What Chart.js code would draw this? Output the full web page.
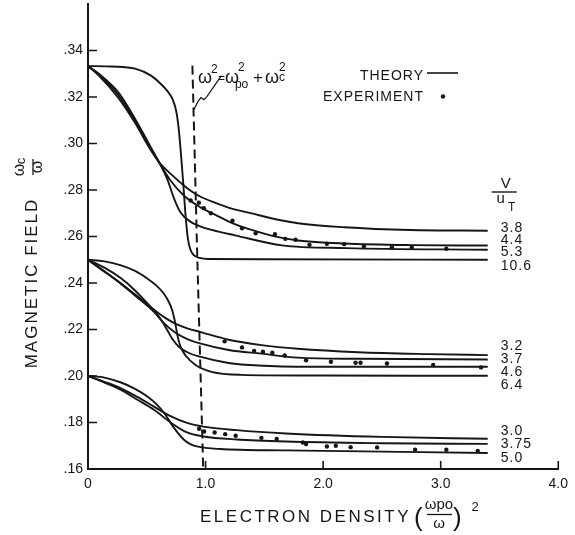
<!DOCTYPE html>
<html>
<head>
<meta charset="utf-8">
<script src="https://cdn.jsdelivr.net/npm/chart.js@4.4.0/dist/chart.umd.min.js"></script>
<style>
body { margin: 0; background: #fff; }
#wrap { width: 575px; height: 535px; }
</style>
</head>
<body>
<div id="wrap"><canvas id="myChart" width="575" height="535"></canvas></div>
<script>
// axis ticks
const xTicks = [0, 1, 2, 3, 4];
const yTicks = [0.16, 0.18, 0.20, 0.22, 0.24, 0.26, 0.28, 0.30, 0.32, 0.34];

// theory curves, [electron density, wc/w], labelled by V/uT
const theory38 = [[0,0.3333],[0.09,0.3293],[0.255,0.3198],[0.396,0.3092],[0.536,0.2970],[0.62,0.2910],[0.72,0.2862],[0.80,0.2826],[0.873,0.2797],[0.95,0.2773],[1.084,0.2745],[1.238,0.2718],[1.364,0.2703],[1.617,0.2672],[1.785,0.2657],[2.18,0.2640],[2.74,0.2628],[3.4,0.2625]];
const theory44 = [[0,0.3333],[0.09,0.3297],[0.255,0.3210],[0.396,0.3100],[0.536,0.2975],[0.62,0.2905],[0.70,0.2842],[0.817,0.2775],[0.957,0.2725],[1.084,0.2693],[1.238,0.2655],[1.364,0.2633],[1.617,0.2597],[1.785,0.2583],[2.18,0.2570],[2.74,0.2563],[3.4,0.2561]];
const theory53 = [[0,0.3333],[0.09,0.3301],[0.255,0.3222],[0.396,0.3110],[0.536,0.2982],[0.62,0.2905],[0.676,0.2845],[0.733,0.2762],[0.789,0.2702],[0.873,0.2663],[0.943,0.2646],[1.1,0.2622],[1.25,0.2605],[1.65,0.2562],[2.2,0.2550],[3.4,0.2543]];
const theory106 = [[0,0.3333],[0.2,0.3331],[0.4,0.3322],[0.536,0.3292],[0.62,0.3256],[0.676,0.3225],[0.72,0.3190],[0.75,0.3140],[0.77,0.3070],[0.79,0.2960],[0.81,0.2830],[0.83,0.2690],[0.85,0.2590],[0.87,0.2545],[0.90,0.2520],[0.95,0.2508],[1.02,0.2503],[1.5,0.2502],[3.4,0.2500]];

const theory32 = [[0,0.25],[0.14,0.2450],[0.281,0.2398],[0.42,0.2343],[0.561,0.2285],[0.65,0.2252],[0.747,0.2224],[0.85,0.2204],[0.952,0.2190],[1.196,0.2156],[1.476,0.2133],[1.785,0.2117],[2.3,0.2102],[2.9,0.2094],[3.4,0.2090]];
const theory37 = [[0,0.25],[0.14,0.2449],[0.281,0.2396],[0.42,0.2338],[0.561,0.2276],[0.65,0.2225],[0.747,0.2185],[0.85,0.2158],[0.952,0.2140],[1.196,0.2112],[1.476,0.2096],[1.785,0.2079],[2.3,0.2074],[3.4,0.2071]];
const theory46 = [[0,0.25],[0.14,0.2466],[0.281,0.2420],[0.40,0.2368],[0.505,0.2312],[0.604,0.2255],[0.674,0.2198],[0.716,0.2160],[0.775,0.2125],[0.85,0.2101],[0.952,0.2083],[1.196,0.2056],[1.5,0.2044],[1.785,0.2040],[3.4,0.2040]];
const theory64 = [[0,0.25],[0.14,0.2493],[0.281,0.2476],[0.40,0.2452],[0.505,0.2419],[0.58,0.2390],[0.646,0.2354],[0.69,0.2316],[0.716,0.2283],[0.735,0.2245],[0.75,0.2205],[0.765,0.2165],[0.79,0.2123],[0.83,0.2088],[0.915,0.2047],[1.05,0.2018],[1.3,0.2005],[2.0,0.2002],[3.4,0.2001]];

const theory30 = [[0,0.20],[0.14,0.1975],[0.281,0.1947],[0.42,0.1910],[0.561,0.1868],[0.702,0.1827],[0.842,0.1798],[0.983,0.1782],[1.263,0.1767],[1.684,0.1753],[2.5,0.1738],[3.4,0.1730]];
const theory375 = [[0,0.20],[0.14,0.1972],[0.281,0.1940],[0.42,0.1898],[0.561,0.1855],[0.702,0.1800],[0.842,0.1757],[0.983,0.1740],[1.263,0.1727],[1.684,0.1718],[2.5,0.1711],[3.4,0.1708]];
const theory50 = [[0,0.20],[0.14,0.1993],[0.281,0.1972],[0.40,0.1945],[0.505,0.1912],[0.58,0.1880],[0.646,0.1842],[0.73,0.1778],[0.814,0.1727],[0.87,0.1707],[0.926,0.1697],[1.123,0.1686],[1.684,0.1680],[3.4,0.1669]];

// experiment points
const expTop = [[0.873,0.2755],[0.943,0.2745],[0.985,0.2722],[1.045,0.2700],[1.229,0.2668],[1.31,0.2635],[1.426,0.2614],[1.59,0.2610],[1.678,0.2590],[1.765,0.2586],[1.884,0.2564],[2.032,0.2569],[2.179,0.2567],[2.347,0.2558],[2.585,0.2554],[2.754,0.2553],[3.048,0.2547]];
const expMid = [[1.162,0.2149],[1.31,0.2123],[1.413,0.2108],[1.488,0.2104],[1.568,0.2100],[1.673,0.2088],[1.855,0.2068],[2.066,0.2061],[2.276,0.2057],[2.318,0.2057],[2.543,0.2054],[2.936,0.2047],[3.343,0.2037]];
const expLow = [[0.945,0.1773],[0.988,0.1761],[1.077,0.1757],[1.167,0.1750],[1.256,0.1743],[1.475,0.1734],[1.605,0.1729],[1.827,0.1714],[1.855,0.1707],[2.032,0.1697],[2.108,0.1700],[2.234,0.1694],[2.459,0.1693],[2.782,0.1683],[3.048,0.1683],[3.315,0.1678]];

// resonance line w^2 = wpo^2 + wc^2
const dashX = [0.888, 0.930, 0.980];
const dashY = [0.3335, 0.25, 0.16];

const curveLabels = ['3.8','4.4','5.3','10.6','3.2','3.7','4.6','6.4','3.0','3.75','5.0'];
const curves = [theory38, theory44, theory53, theory106, theory32, theory37, theory46, theory64, theory30, theory375, theory50];
// where the V/uT numbers sit (value on the y axis)
const labelSpots = [0.2634, 0.2583, 0.2532, 0.2474, 0.2129, 0.2073, 0.2017, 0.1959, 0.1764, 0.1707, 0.1645];

const ink = '#161616';
const font = '"Liberation Sans", Arial, sans-serif';

function toPoints(arr){
    return arr.map(p => ({x: p[0], y: p[1]}));
}

const datasets = [];
curves.forEach((c, i) => {
    datasets.push({
        label: curveLabels[i],
        data: toPoints(c),
        showLine: true,
        borderColor: ink,
        borderWidth: 1.9,
        pointRadius: 0,
        cubicInterpolationMode: 'monotone',
        fill: false
    });
});
[expTop, expMid, expLow].forEach(e => {
    datasets.push({
        label: 'experiment',
        data: toPoints(e),
        showLine: false,
        pointRadius: 2.2,
        pointBackgroundColor: ink,
        pointBorderWidth: 0
    });
});
datasets.push({
    label: 'resonance',
    data: dashX.map((x, i) => ({x: x, y: dashY[i]})),
    showLine: true,
    borderColor: ink,
    borderWidth: 2,
    borderDash: [9, 5],
    pointRadius: 0,
    tension: 0
});

function spaced(ctx, px){
    if ('letterSpacing' in ctx) ctx.letterSpacing = px + 'px';
}

const extras = {
    id: 'extras',
    afterDraw(chart){
        const ctx = chart.ctx;
        const xs = chart.scales.x, ys = chart.scales.y;
        const area = chart.chartArea;
        ctx.save();
        ctx.strokeStyle = ink;
        ctx.fillStyle = ink;

        // inward tick marks
        ctx.lineWidth = 1.6;
        ctx.beginPath();
        yTicks.forEach(v => {
            const py = ys.getPixelForValue(v);
            ctx.moveTo(area.left, py);
            ctx.lineTo(area.left + 9, py);
        });
        xTicks.slice(1).forEach(v => {
            const px = xs.getPixelForValue(v);
            ctx.moveTo(px, area.bottom);
            ctx.lineTo(px, area.bottom - 8);
        });
        ctx.stroke();

        // V/uT numbers at the right
        ctx.font = '14px ' + font;
        spaced(ctx, 1);
        ctx.textAlign = 'left';
        ctx.textBaseline = 'middle';
        const lx = xs.getPixelForValue(3.4) + 13;
        curveLabels.forEach((t, i) => {
            ctx.fillText(t, lx, ys.getPixelForValue(labelSpots[i]));
        });

        // V over uT heading
        ctx.textBaseline = 'alphabetic';
        ctx.textAlign = 'center';
        ctx.font = '15px ' + font;
        spaced(ctx, 0);
        ctx.fillText('V', lx + 5, 188);
        ctx.lineWidth = 1.4;
        ctx.beginPath();
        ctx.moveTo(lx - 9, 192);
        ctx.lineTo(lx + 16, 192);
        ctx.stroke();
        ctx.font = '15px ' + font;
        ctx.fillText('u', lx + 0, 203);
        ctx.font = '12px ' + font;
        ctx.fillText('T', lx + 11, 211);

        // legend
        ctx.font = '14px ' + font;
        spaced(ctx, 1);
        ctx.textAlign = 'right';
        ctx.fillText('THEORY', 424, 80);
        ctx.fillText('EXPERIMENT', 424, 101);
        ctx.lineWidth = 1.6;
        ctx.beginPath();
        ctx.moveTo(427, 73);
        ctx.lineTo(458, 73);
        ctx.stroke();
        ctx.beginPath();
        ctx.arc(443, 96.5, 2.2, 0, Math.PI * 2);
        ctx.fill();

        // formula next to the dashed line, anchored at its top end
        const top = chart.getDatasetMeta(datasets.length - 1).data[0];
        const fx = top.x + 5.5, fy = top.y + 17;
        spaced(ctx, 0);
        ctx.textAlign = 'left';
        const piece = (t, size, dx, dy) => {
            ctx.font = size + 'px ' + font;
            ctx.fillText(t, fx + dx, fy + dy);
        };
        piece('\u03c9', 18, 0, 0);
        piece('2', 12, 13, -10);
        piece('=', 12, 20, -1);
        piece('\u03c9', 18, 27, 0);
        piece('2', 12, 40, -12);
        piece('po', 12, 37, 5);
        piece('+', 17, 55, 0);
        piece('\u03c9', 18, 67, 0);
        piece('2', 12, 81, -12);
        piece('c', 12, 81, -2);

        // zigzag leader to the dashed line
        ctx.lineWidth = 1.2;
        ctx.beginPath();
        ctx.moveTo(top.x + 1.5, top.y + 44);
        ctx.lineTo(top.x + 5.5, top.y + 36);
        ctx.lineTo(top.x + 8.5, top.y + 32);
        ctx.lineTo(top.x + 11.5, top.y + 34);
        ctx.lineTo(top.x + 14.5, top.y + 31);
        ctx.lineTo(top.x + 29, top.y + 10);
        ctx.stroke();

        // x axis title
        ctx.font = '17px ' + font;
        spaced(ctx, 2.5);
        ctx.textAlign = 'left';
        ctx.fillText('ELECTRON DENSITY', 200, 522);
        spaced(ctx, 0);
        ctx.font = '26px ' + font;
        ctx.fillText('(', 414, 526);
        ctx.fillText(')', 453, 526);
        ctx.font = '15px ' + font;
        ctx.textAlign = 'center';
        ctx.fillText('\u03c9po', 439, 509);
        ctx.fillText('\u03c9', 439, 528);
        ctx.lineWidth = 1.3;
        ctx.beginPath();
        ctx.moveTo(427, 514.5);
        ctx.lineTo(452, 514.5);
        ctx.stroke();
        ctx.font = '13px ' + font;
        ctx.fillText('2', 475, 511);

        // y axis title, rotated
        ctx.save();
        ctx.translate(37, 283);
        ctx.rotate(-Math.PI / 2);
        ctx.font = '17px ' + font;
        spaced(ctx, 2);
        ctx.textAlign = 'center';
        ctx.fillText('MAGNETIC FIELD', 0, 0);
        ctx.restore();

        ctx.save();
        ctx.translate(33, 167);
        ctx.rotate(-Math.PI / 2);
        spaced(ctx, 0);
        ctx.textAlign = 'center';
        ctx.font = '16px ' + font;
        ctx.fillText('\u03c9', -3, -9);
        ctx.font = '13px ' + font;
        ctx.fillText('c', 6, -8);
        ctx.font = '16px ' + font;
        ctx.fillText('\u03c9', 0, 9);
        ctx.lineWidth = 1.3;
        ctx.beginPath();
        ctx.moveTo(-8, 0);
        ctx.lineTo(8, 0);
        ctx.stroke();
        ctx.restore();

        ctx.restore();
    }
};

const chart = new Chart(document.getElementById('myChart').getContext('2d'), {
    type: 'scatter',
    data: {datasets: datasets},
    options: {
        responsive: false,
        animation: false,
        layout: {padding: {top: 3, right: 12, left: 0, bottom: 0}},
        plugins: {legend: {display: false}, tooltip: {enabled: false}},
        scales: {
            x: {
                type: 'linear',
                min: 0,
                max: 4,
                afterBuildTicks: axis => { axis.ticks = xTicks.map(v => ({value: v})); },
                afterFit: axis => { axis.height = 66; },
                grid: {display: false, drawTicks: false},
                border: {display: true, color: ink, width: 2},
                ticks: {
                    color: ink,
                    font: {family: font, size: 14},
                    padding: 7,
                    maxRotation: 0,
                    callback: v => v === 0 ? '0' : v.toFixed(1)
                }
            },
            y: {
                type: 'linear',
                min: 0.16,
                max: 0.36,
                afterBuildTicks: axis => { axis.ticks = yTicks.map(v => ({value: v})); },
                afterFit: axis => { axis.width = 88; axis.paddingTop = 0; axis.paddingBottom = 0; },
                grid: {display: false, drawTicks: false},
                border: {display: true, color: ink, width: 2},
                ticks: {
                    color: ink,
                    font: {family: font, size: 14},
                    padding: 5,
                    callback: v => v.toFixed(2).replace(/^0/, '')
                }
            }
        }
    },
    plugins: [extras]
});
</script>
</body>
</html>
